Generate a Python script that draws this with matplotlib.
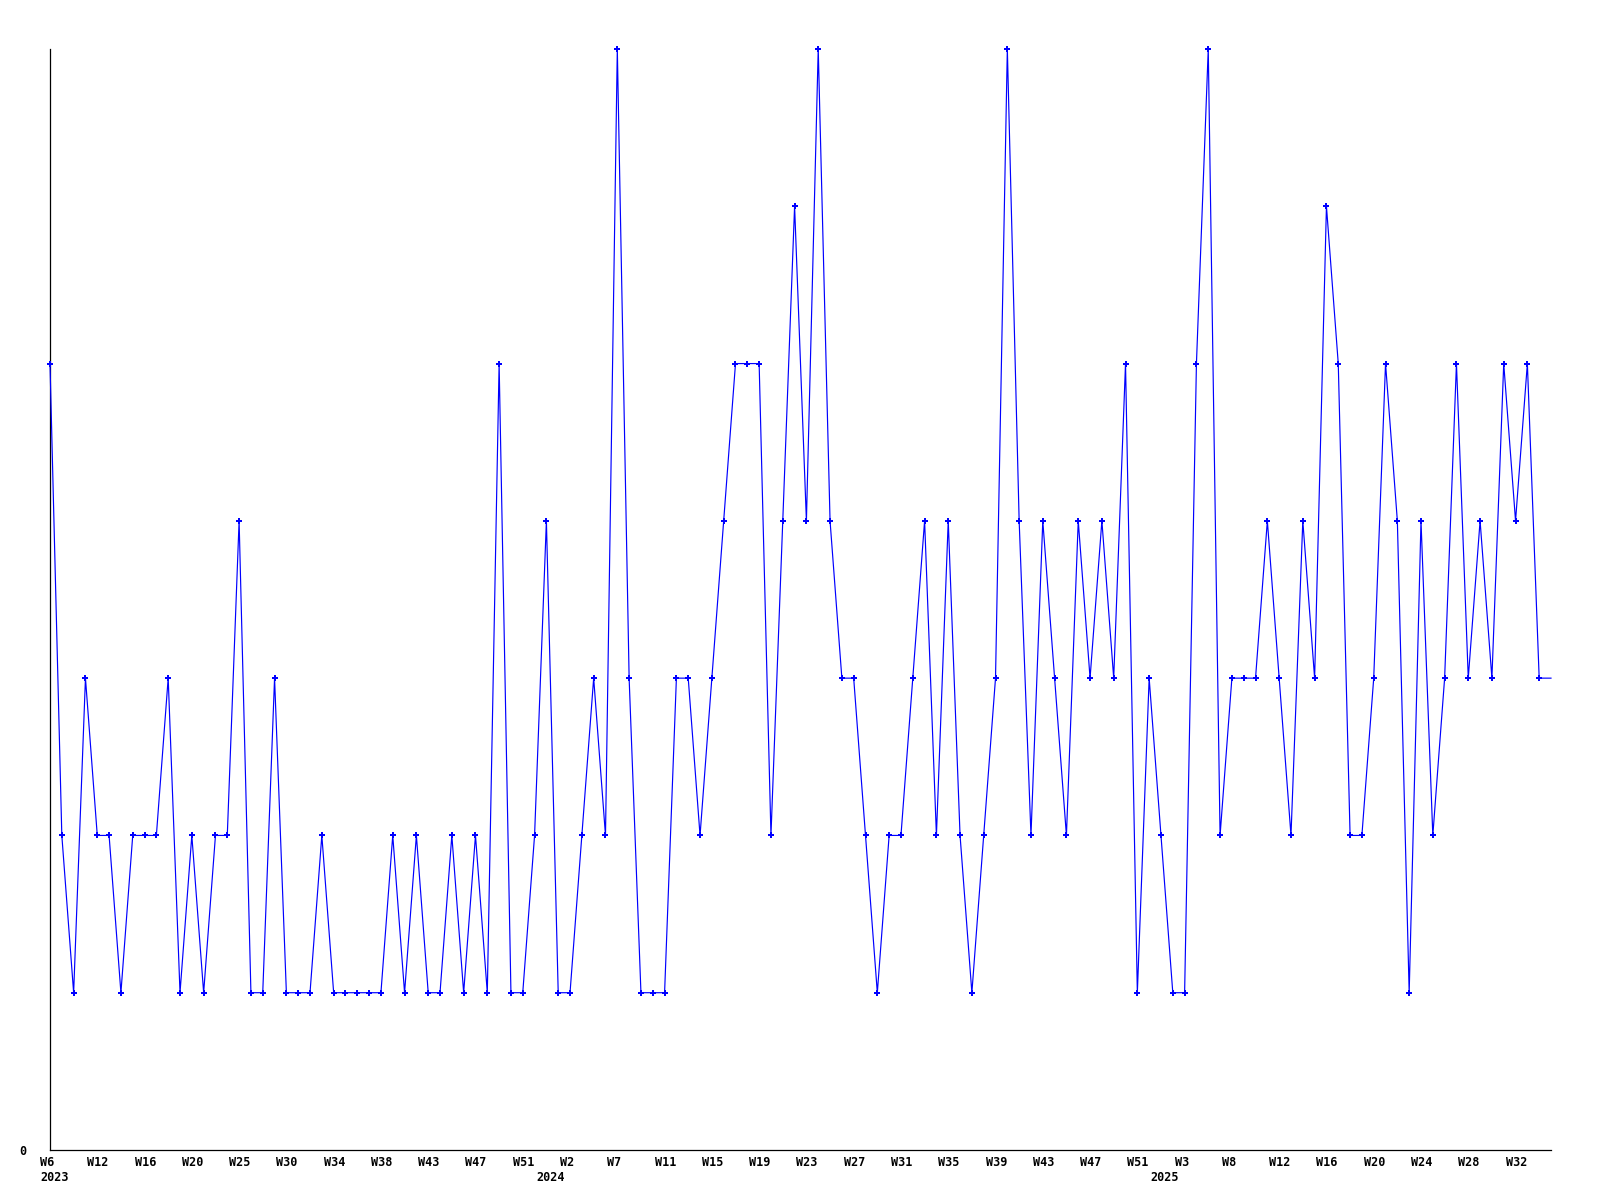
import matplotlib
matplotlib.use("Agg")
import matplotlib.pyplot as plt
import matplotlib.transforms as mtransforms

# ---- data ----
values = [5, 2, 1, 3, 2, 2, 1, 2, 2, 2,
          3, 1, 2, 1, 2, 2, 4, 1, 1, 3,
          1, 1, 1, 2, 1, 1, 1, 1, 1, 2,
          1, 2, 1, 1, 2, 1, 2, 1, 5, 1,
          1, 2, 4, 1, 1, 2, 3, 2, 7, 3,
          1, 1, 1, 3, 3, 2, 3, 4, 5, 5,
          5, 2, 4, 6, 4, 7, 4, 3, 3, 2,
          1, 2, 2, 3, 4, 2, 4, 2, 1, 2,
          3, 7, 4, 2, 4, 3, 2, 4, 3, 4,
          3, 5, 1, 3, 2, 1, 1, 5, 7, 2,
          3, 3, 3, 4, 3, 2, 4, 3, 6, 5,
          2, 2, 3, 5, 4, 1, 4, 2, 3, 5,
          3, 4, 3, 5, 4, 5, 3, 3]

week_labels = ["W6", "W12", "W16", "W20", "W25", "W30", "W34", "W38", "W43",
               "W47", "W51", "W2", "W7", "W11", "W15", "W19", "W23", "W27",
               "W31", "W35", "W39", "W43", "W47", "W51", "W3", "W8", "W12",
               "W16", "W20", "W24", "W28", "W32"]
tick_step = 4
year_labels = ["2023", "2024", "2025"]
year_tick_index = [0, 11, 24]   # which week label each year sits under
y_max = 7

# ---- figure ----
fig = plt.figure(figsize=(16, 12), dpi=100)
ax = fig.add_axes([50 / 1600, 50 / 1200, 1501 / 1600, 1101 / 1200])

xs = list(range(len(values)))
ax.plot(xs, values, color="#0000ff", lw=0.85, marker="P", markersize=4.2,
        markeredgewidth=0, markerfacecolor="#0000ff",
        markevery=list(range(len(values) - 1)), solid_joinstyle="miter",
        clip_on=False, zorder=3)

ax.set_xlim(0, len(values) - 1)
ax.set_ylim(0, y_max)

for s in ("top", "right"):
    ax.spines[s].set_visible(False)
for s in ("left", "bottom"):
    ax.spines[s].set_color("black")
    ax.spines[s].set_linewidth(0.9)

font = dict(family="DejaVu Sans Mono", weight="bold", size=8.5)

tick_pos = [i * tick_step for i in range(len(week_labels))]
ax.set_xticks(tick_pos)
ax.set_xticklabels(week_labels, ha="left", **font)
ax.tick_params(axis="x", length=0, pad=4)
off = mtransforms.ScaledTranslation(-10 / 100, 0, fig.dpi_scale_trans)
for lbl in ax.get_xticklabels():
    lbl.set_transform(lbl.get_transform() + off)

ax.set_yticks([0])
ax.set_yticklabels(["0"], **font)
ax.tick_params(axis="y", length=0, pad=17)

# year labels
blend = mtransforms.blended_transform_factory(ax.transData, ax.transAxes)
for yl, ti in zip(year_labels, year_tick_index):
    x = tick_pos[ti]
    dx = -10 if ti == 0 else -34
    ax.text(x, 0, yl, ha="left", va="center",
            transform=blend + mtransforms.ScaledTranslation(dx / 100, -27.6 / 100, fig.dpi_scale_trans),
            **font)

fig.savefig("out.png", dpi=100, facecolor="white")
